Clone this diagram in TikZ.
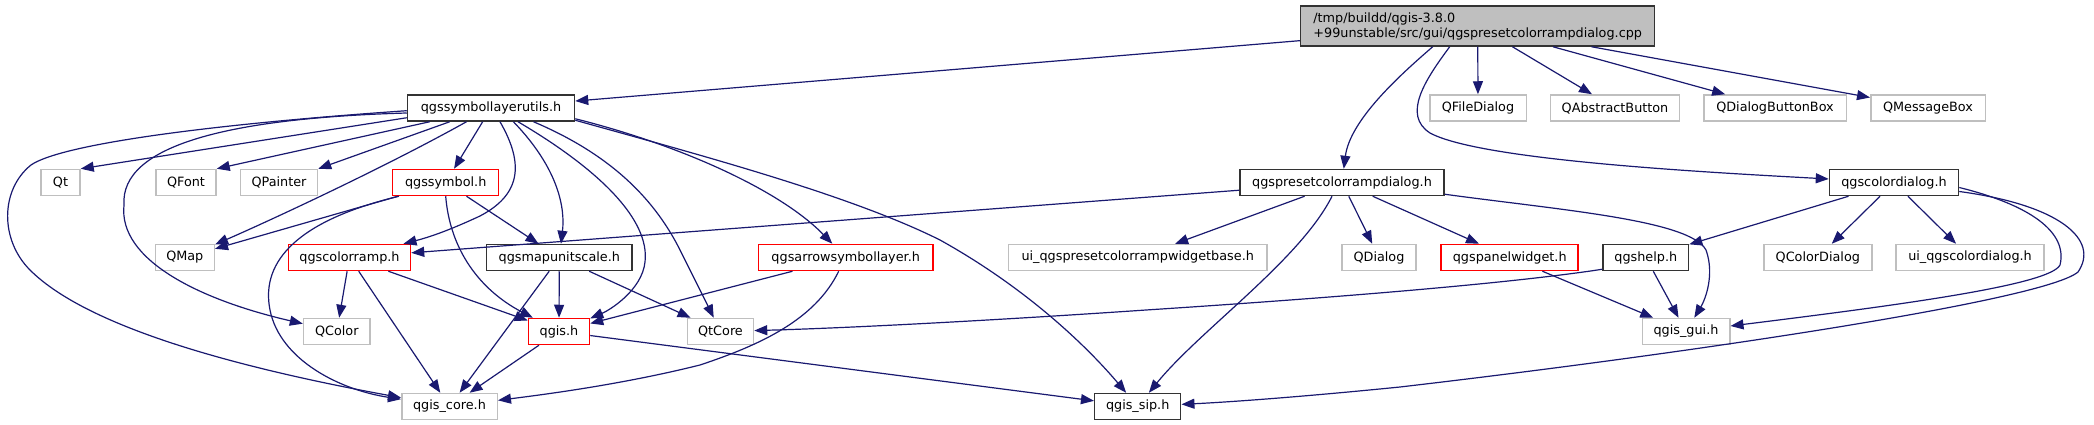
\documentclass[tikz,border=0pt]{standalone}
\usepackage{fontspec}
\setmainfont{DejaVu Sans}
\usetikzlibrary{arrows.meta,calc}
\definecolor{edgecol}{HTML}{191970}
\definecolor{graybd}{HTML}{BFBFBF}
\definecolor{redbd}{HTML}{FF0000}
\definecolor{docbd}{HTML}{333333}
\definecolor{cppfill}{HTML}{BFBFBF}
\begin{document}
\begin{tikzpicture}[x=1pt,y=-1pt,
  box/.style={draw, line width=1.5pt, minimum height=26pt, inner sep=0pt,
    font=\fontsize{12.8}{15}\selectfont, text=black},
  extbox/.style={box, draw=graybd},
  docbox/.style={box, draw=docbd},
  redbox/.style={box, draw=redbd},
  edge/.style={draw=edgecol, line width=1.2pt, -{Triangle[length=13pt,width=10pt]}}
]
\fill[white] (0,0) rectangle (2094,425);
\useasboundingbox (0,0) rectangle (2094,425);

% row 0
\node[docbox, fill=cppfill, minimum width=354pt, minimum height=40pt, align=left] (cpp) at (1477.7,26)
  {/tmp/buildd/qgis-3.8.0\\+99unstable/src/gui/qgspresetcolorrampdialog.cpp};
% row 1
\node[docbox, minimum width=167pt] (utils) at (491,108) {qgssymbollayerutils.h};
\node[extbox, minimum width=96.5pt] (QFileDialog) at (1478,108) {QFileDialog};
\node[extbox, minimum width=129pt] (QAbstractButton) at (1615,108) {QAbstractButton};
\node[extbox, minimum width=142.5pt] (QDialogButtonBox) at (1775,108) {QDialogButtonBox};
\node[extbox, minimum width=114.5pt] (QMessageBox) at (1928,108) {QMessageBox};
% row 2
\node[extbox, minimum width=39pt] (Qt) at (60.5,182.5) {Qt};
\node[extbox, minimum width=60pt] (QFont) at (186,182.5) {QFont};
\node[extbox, minimum width=77pt] (QPainter) at (279,182.5) {QPainter};
\node[redbox, minimum width=106pt] (symbol) at (445.7,182.5) {qgssymbol.h};
\node[docbox, minimum width=204pt] (preset) at (1342,182.5) {qgspresetcolorrampdialog.h};
\node[docbox, minimum width=129pt] (colordlg) at (1894,182.5) {qgscolordialog.h};
% row 3
\node[extbox, minimum width=59pt] (QMap) at (184.8,257.5) {QMap};
\node[redbox, minimum width=122pt] (colorramp) at (349.5,257.5) {qgscolorramp.h};
\node[docbox, minimum width=145.5pt] (mapunit) at (559.3,257.5) {qgsmapunitscale.h};
\node[redbox, minimum width=174.5pt] (arrow) at (845.7,257.5) {qgsarrowsymbollayer.h};
\node[extbox, minimum width=258.5pt] (uipreset) at (1137.7,257.5) {ui\_qgspresetcolorrampwidgetbase.h};
\node[extbox, minimum width=74pt] (QDialog) at (1379,257.5) {QDialog};
\node[redbox, minimum width=137pt] (panel) at (1509.7,257.5) {qgspanelwidget.h};
\node[docbox, minimum width=85.5pt] (help) at (1645.8,257.5) {qgshelp.h};
\node[extbox, minimum width=108pt] (QColorDialog) at (1817.8,257.5) {QColorDialog};
\node[extbox, minimum width=148pt] (uicolor) at (1970,257.5) {ui\_qgscolordialog.h};
% row 4
\node[extbox, minimum width=66.5pt] (QColor) at (336.8,331.5) {QColor};
\node[redbox, minimum width=61pt] (qgis) at (559,331.5) {qgis.h};
\node[extbox, minimum width=66pt] (QtCore) at (720.5,331.5) {QtCore};
\node[extbox, minimum width=87.5pt] (gui) at (1686,331.5) {qgis\_gui.h};
% row 5
\node[extbox, minimum width=95.5pt] (core) at (449.5,406.5) {qgis\_core.h};
\node[docbox, minimum width=86pt] (sip) at (1137.7,406.5) {qgis\_sip.h};

% edges from cpp
\draw[edge] (cpp) -- (utils);
\draw[edge] (cpp) -- (QFileDialog);
\draw[edge] (cpp) -- (QAbstractButton);
\draw[edge] (cpp) -- (QDialogButtonBox);
\draw[edge] (cpp) -- (QMessageBox);
\draw[edge] ($(cpp.south)+(-45,0)$) .. controls (1400,75) and (1350,120) .. (preset);
\draw[edge] ($(cpp.south)+(-28,0)$) .. controls (1425,80) and (1402,115) .. (1430,133)
  .. controls (1480,160) and (1700,172) .. (colordlg);

% edges from utils
\draw[edge] ($(utils.south west)+(0,-4)$) -- (Qt.north east);
\draw[edge] ($(utils.south west)+(23,0)$) -- (QFont.north east);
\draw[edge] ($(utils.south west)+(43,0)$) -- (QPainter.north east);
\draw[edge] (utils) -- (symbol);
\draw[edge] ($(utils.south)+(-24.5,0)$) .. controls (380,170) and (260,225) .. (QMap);
\draw[edge] ($(utils.west)+(0,5)$) .. controls (230,118) and (120,145) .. (124,205)
  .. controls (118,260) and (200,300) .. (QColor);
\draw[edge] ($(utils.west)+(0,2.7)$) .. controls (200,125) and (60,145) .. (31,165)
  .. controls (0,190) and (0,240) .. (30,270)
  .. controls (90,330) and (250,370) .. (core);
\draw[edge] ($(utils.south)+(9,0)$) .. controls (525,165) and (520,195) .. (480,216)
  .. controls (450,230) and (430,237) .. (colorramp);
\draw[edge] ($(utils.south)+(22.4,0)$) .. controls (560,170) and (565,210) .. (mapunit);
\draw[edge] ($(utils.south)+(27,0)$) .. controls (600,170) and (650,220) .. (645,262)
  .. controls (642,290) and (610,310) .. (qgis);
\draw[edge] ($(utils.south)+(42.5,0)$) .. controls (600,150) and (650,190) .. (680,250)
  .. controls (695,280) and (705,300) .. (QtCore);
\draw[edge] ($(utils.south east)+(0,-3)$) .. controls (680,145) and (780,190) .. (arrow);
\draw[edge] ($(utils.south east)+(0,-1.5)$) .. controls (700,155) and (850,195) .. (940,240)
  .. controls (1030,290) and (1090,350) .. (sip);

% edges from qgssymbol.h
\draw[edge] (symbol) -- (QMap);
\draw[edge] (symbol) -- (mapunit);
\draw[edge] (symbol.south) .. controls (450,250) and (480,290) .. (qgis);
\draw[edge] ($(symbol.south west)+(7,0)$) .. controls (300,220) and (260,260) .. (270,310)
  .. controls (280,360) and (340,390) .. (core);

% edges from qgscolorramp.h
\draw[edge] (colorramp) -- (QColor);
\draw[edge] (colorramp) -- (core);
\draw[edge] (colorramp) -- (qgis);

% edges from qgsmapunitscale.h
\draw[edge] (mapunit) -- (qgis);
\draw[edge] (mapunit) -- (core);
\draw[edge] (mapunit) -- (QtCore);

% edges from qgis.h
\draw[edge] (qgis) -- (core);
\draw[edge] (qgis) -- (sip);

% edges from qgsarrowsymbollayer.h
\draw[edge] (arrow) -- (qgis);
\draw[edge] ($(arrow.south)+(-7,0)$) .. controls (815,320) and (760,345) .. (700,365)
  .. controls (620,385) and (540,395) .. (core);

% edges from qgspresetcolorrampdialog.h
\draw[edge] (preset) -- (colorramp);
\draw[edge] (preset) -- (uipreset);
\draw[edge] (preset) -- (QDialog);
\draw[edge] (preset) -- (panel);
\draw[edge] ($(preset.south)+(-10,0)$) .. controls (1300,260) and (1200,330) .. (sip);
\draw[edge] ($(preset.south east)+(0,-2)$) .. controls (1560,210) and (1690,220) .. (1706,250)
  .. controls (1715,275) and (1705,300) .. (gui);

% edges from qgscolordialog.h
\draw[edge] (colordlg) -- (help);
\draw[edge] (colordlg) -- (QColorDialog);
\draw[edge] (colordlg) -- (uicolor);
\draw[edge] ($(colordlg.east)+(0,5)$) .. controls (2030,205) and (2068,232) .. (2060,265)
  .. controls (2050,285) and (1900,305) .. (gui);
\draw[edge] ($(colordlg.east)+(0,9)$) .. controls (2060,205) and (2100,240) .. (2078,272)
  .. controls (2045,300) and (1700,352) .. (1400,387)
  .. controls (1300,397) and (1230,402) .. (sip);

% edges from qgspanelwidget.h and qgshelp.h
\draw[edge] (panel) -- (gui);
\draw[edge] (help) -- (gui);
\draw[edge] ($(help.south west)+(0,-2)$) .. controls (1500,285) and (1300,300) .. (1146,310)
  .. controls (1000,320) and (850,328) .. (QtCore);
\end{tikzpicture}
\end{document}
